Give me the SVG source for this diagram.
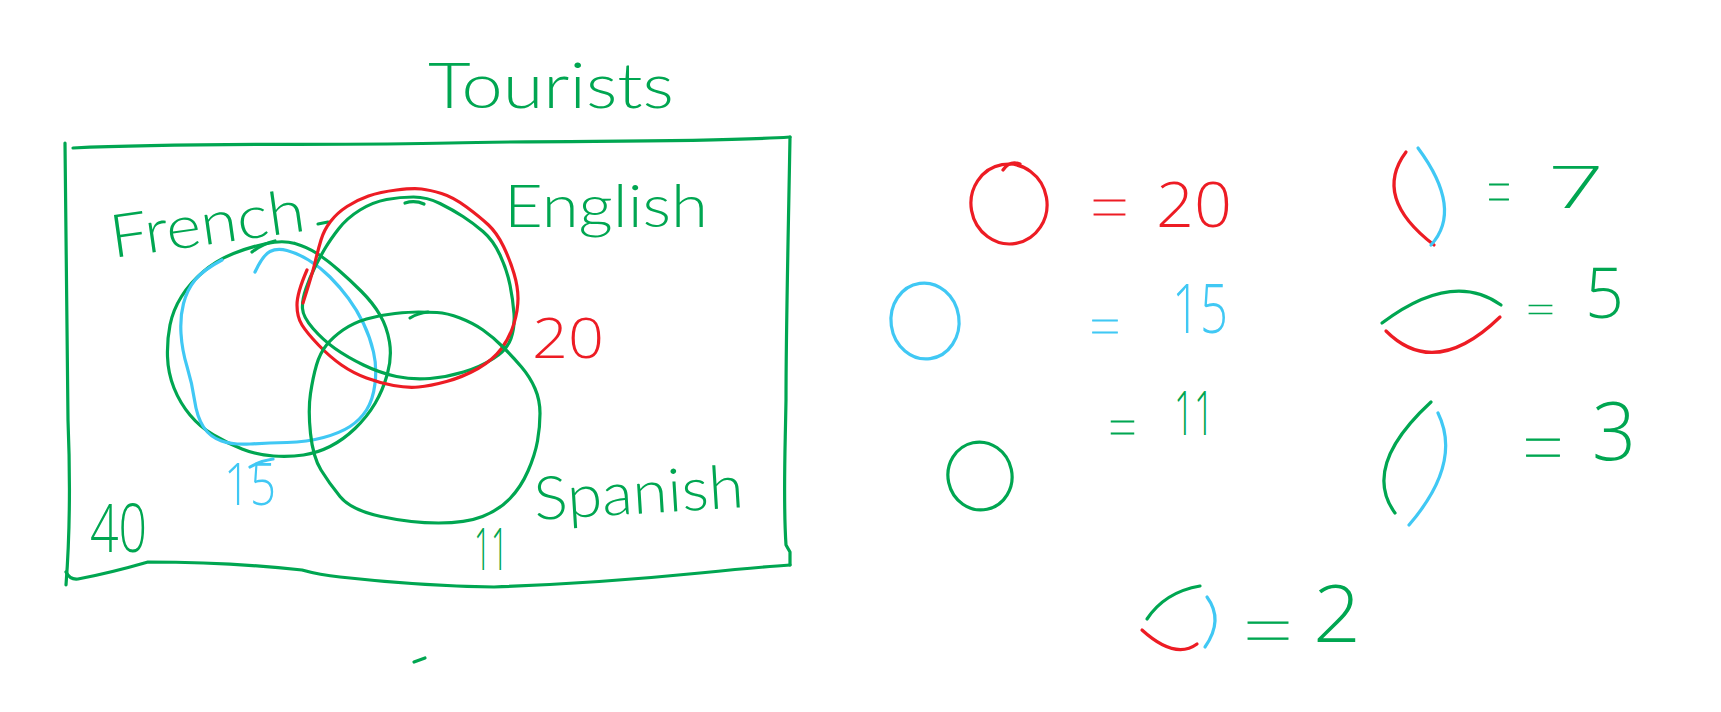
<svg xmlns="http://www.w3.org/2000/svg" width="1721" height="712" viewBox="0 0 1721 712">
<style>
.g{stroke:#00A651}.r{stroke:#ED1C24}.b{stroke:#40C8F4}
path,ellipse{fill:none;stroke-width:3.2;stroke-linecap:round;stroke-linejoin:round}
text{font-family:Lato,"Liberation Sans",sans-serif;font-weight:300}
.n{font-family:"Open Sans",Lato,"Liberation Sans",sans-serif;font-weight:300}
.eq{font-family:Lato,"Liberation Sans",sans-serif;font-weight:200;stroke-width:1}
.tg{fill:#00A651}.tr{fill:#ED1C24}.tb{fill:#40C8F4}
.eq.tg{stroke:#00A651}.eq.tr{stroke:#ED1C24}.eq.tb{stroke:#40C8F4}
</style>
<rect width="1721" height="712" fill="#fff"/>
<g id="title"><text class="tg" x="428" y="108" font-size="64" textLength="246" lengthAdjust="spacingAndGlyphs">Tourists</text></g>
<g id="frame">
<path class="g" d="M73,148 C200,142 330,146 450,143 S700,143 790,137"/>
<path class="g" d="M65,143 C66,280 68,380 68,420 C70,470 71,520 66,585"/>
<path class="g" d="M790,137 C788,250 786,330 786,400 C785,460 783,500 786,545 L790,552 L790,565"/>
<path class="g" d="M66,572 Q70,580 78,579 Q110,573 148,562 Q230,562 302,570 Q320,575 340,577 Q420,586 494,587 Q600,583 700,573 Q760,567 790,565"/>
</g>
<g id="french">
<path class="g" d="M295,243.5 Q307,247 317,253.5 Q327,260 338.5,270 Q350,280 361.5,291.5 Q373,303 380,315 Q387,327 389.5,342 Q392,357 387.5,373.5 Q383,390 375,403.5 Q367,417 355,428.5 Q343,440 330,446.5 Q317,453 303.5,455 Q290,457 273.5,456 Q257,455 242,449 Q227,443 213.5,435 Q200,427 190,415 Q180,403 174,388 Q168,373 167.5,356.5 Q167,340 170,325 Q173,310 181.5,296.5 Q190,283 203.5,271.5 Q217,260 233.5,253.5 Q250,247 266.5,243.5 Q283,240 295,243.5"/>
<path class="g" d="M252,252 Q262,244 275,241"/>
<path class="b" d="M255,272 Q263,255 270,251.5 Q277,248 287,250.5 Q297,253 308.5,260 Q320,267 330,277 Q340,287 348.5,298.5 Q357,310 363.5,323.5 Q370,337 373.5,352 Q377,367 375,383.5 Q373,400 366.5,410 Q360,420 350,426.5 Q340,433 323.5,437.5 Q307,442 287,442.5 Q267,443 250,444 Q233,445 221.5,441 Q210,437 203.5,427 Q197,417 194.5,400 Q192,383 187,366.5 Q182,350 181,333.5 Q180,317 183.5,303.5 Q187,290 195,280 Q203,270 222,260"/>
<text class="tg" x="113" y="258" font-size="60" textLength="196" lengthAdjust="spacingAndGlyphs" transform="rotate(-8 113 258)">French</text>
<path class="b" d="M250,467 Q260,461 273,459"/>
<text class="tb n" x="224" y="505" font-size="58" textLength="52" lengthAdjust="spacingAndGlyphs">15</text>
</g>
<g id="english">
<path class="g" d="M413.5,197 Q427,197 440,203.5 Q453,210 463,216.5 Q473,223 483,231.5 Q493,240 500,255 Q507,270 510,285 Q513,300 514,313.5 Q515,327 511,338.5 Q507,350 493.5,358.5 Q480,367 463.5,372 Q447,377 430,378.5 Q413,380 396.5,376.5 Q380,373 363.5,365 Q347,357 335,348.5 Q323,340 313,328.5 Q303,317 302.5,308.5 Q302,300 306,288.5 Q310,277 315,267 Q320,257 325,248.5 Q330,240 338.5,229 Q347,218 360,210 Q373,202 386.5,199.5 Q400,197 413.5,197"/>
<path class="g" d="M318,224 L328,222"/>
<path class="g" d="M405,203 Q415,200 424,204"/>
<path class="r" d="M307,270 Q297,293 297,305 Q297,317 302,325 Q307,333 318.5,345 Q330,357 341.5,365 Q353,373 366.5,378 Q380,383 393.5,385.5 Q407,388 418.5,387 Q430,386 446.5,381.5 Q463,377 478,368.5 Q493,360 501.5,348.5 Q510,337 514,323.5 Q518,310 518,298.5 Q518,287 514,273.5 Q510,260 503.5,246.5 Q497,233 488.5,225 Q480,217 466.5,207 Q453,197 441.5,193.5 Q430,190 421.5,189 Q413,188 396.5,190 Q380,192 368.5,196 Q357,200 347,206.5 Q337,213 330.5,221.5 Q324,230 321,240 Q318,250 315,262.5 Q312,275 303,303"/>
<text class="tg" x="504" y="227" font-size="60" textLength="204" lengthAdjust="spacingAndGlyphs">English</text>
<text class="tr n" x="532" y="358" font-size="56" textLength="72" lengthAdjust="spacingAndGlyphs">20</text>
</g>
<g id="spanish">
<path class="g" d="M437,312.5 Q447,313 460,318 Q473,323 483,330 Q493,337 503,347 Q513,357 521.5,367 Q530,377 535,388.5 Q540,400 540,413.5 Q540,427 537.5,441 Q535,455 528,471 Q521,487 510,498.5 Q499,510 482.5,516.5 Q466,523 438.5,523 Q411,523 381,516.5 Q351,510 340,496.5 Q329,483 321,470 Q313,457 310.5,433.5 Q308,410 310.5,393.5 Q313,377 316.5,365 Q320,353 326.5,345 Q333,337 343,330 Q353,323 366.5,319 Q380,315 395,313.5 Q410,312 418.5,312 Q427,312 437,312.5"/>
<path class="g" d="M410,318 Q418,313 428,312"/>
<text class="tg" x="535" y="520" font-size="60" textLength="210" lengthAdjust="spacingAndGlyphs" transform="rotate(-3.5 535 520)">Spanish</text>
<text class="tg n" x="474" y="570" font-size="58" textLength="34" lengthAdjust="spacingAndGlyphs">11</text>
</g>
<g id="outside">
<text class="tg n" x="90" y="552" font-size="66" textLength="57" lengthAdjust="spacingAndGlyphs">40</text>
<path class="g" d="M414,662 L425,658"/>
</g>
<g id="legend-english">
<ellipse class="r" cx="1009" cy="204" rx="38" ry="40" transform="rotate(-10 1009 204)"/>
<path class="r" d="M1003,170 Q1010,160 1020,164"/>
<text class="tr eq" x="1087" y="240" font-size="96" textLength="45" lengthAdjust="spacingAndGlyphs">=</text>
<text class="tr n" x="1156" y="227" font-size="62" textLength="76" lengthAdjust="spacingAndGlyphs">20</text>
</g>
<g id="legend-french">
<ellipse class="b" cx="925" cy="321" rx="34" ry="38" transform="rotate(-8 925 321)"/>
<text class="tb eq" x="1087" y="354" font-size="80" textLength="36" lengthAdjust="spacingAndGlyphs">=</text>
<text class="tb n" x="1172" y="333" font-size="68" textLength="56" lengthAdjust="spacingAndGlyphs">15</text>
</g>
<g id="legend-spanish">
<ellipse class="g" cx="980" cy="476" rx="32" ry="34" transform="rotate(-12 980 476)"/>
<text class="tg eq" x="1106" y="455" font-size="80" textLength="33" lengthAdjust="spacingAndGlyphs">=</text>
<text class="tg n" x="1174" y="435" font-size="60" textLength="40" lengthAdjust="spacingAndGlyphs">11</text>
</g>
<g id="legend-french-english">
<path class="r" d="M1406,152 Q1372,197.5 1434,245"/>
<path class="b" d="M1418,148 Q1463.5,209.5 1431,245"/>
<text class="tg eq" x="1485" y="226" font-size="100" textLength="28" lengthAdjust="spacingAndGlyphs">=</text>
<text class="tg n" x="1548" y="208" font-size="58" textLength="56" lengthAdjust="spacingAndGlyphs">7</text>
</g>
<g id="legend-english-spanish">
<path class="g" d="M1382,323 Q1452.5,270 1501,305"/>
<path class="r" d="M1386,331 Q1435,380 1500,317"/>
<text class="tg eq" x="1524" y="328" font-size="56" textLength="33" lengthAdjust="spacingAndGlyphs">=</text>
<text class="tg n" x="1585" y="318" font-size="70" textLength="39" lengthAdjust="spacingAndGlyphs">5</text>
</g>
<g id="legend-french-spanish">
<path class="g" d="M1431,402 Q1361,466.5 1395,513"/>
<path class="b" d="M1438,413 Q1462.5,463 1409,525"/>
<text class="tg eq" x="1519" y="484" font-size="106" textLength="48" lengthAdjust="spacingAndGlyphs">=</text>
<text class="tg n" x="1592" y="460" font-size="82" textLength="44" lengthAdjust="spacingAndGlyphs">3</text>
</g>
<g id="legend-all">
<path class="g" d="M1147,619 Q1165,592 1200,586"/>
<path class="b" d="M1207,597 Q1224,620 1205,647"/>
<path class="r" d="M1142,630 Q1175,660 1197,644"/>
<text class="tg eq" x="1239" y="668" font-size="110" textLength="58" lengthAdjust="spacingAndGlyphs">=</text>
<text class="tg n" x="1313" y="642" font-size="80" textLength="48" lengthAdjust="spacingAndGlyphs">2</text>
</g>
</svg>
